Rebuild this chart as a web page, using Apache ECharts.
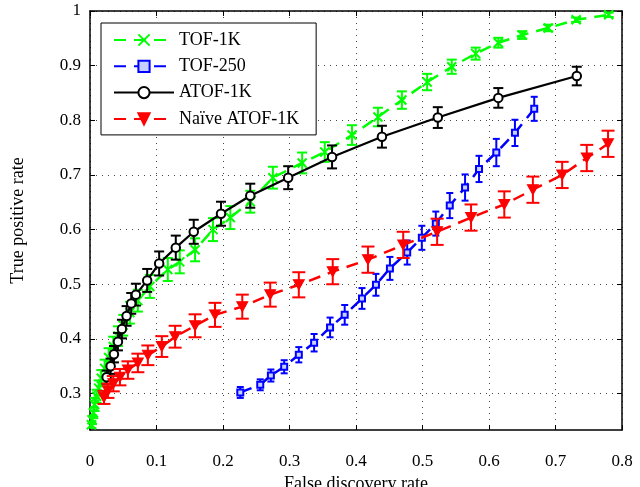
<!DOCTYPE html>
<html><head><meta charset="utf-8">
<script src="https://cdn.jsdelivr.net/npm/echarts@6/dist/echarts.min.js"></script>
<style>html,body{margin:0;padding:0;background:#fff}#c{width:640px;height:487px}</style>
</head><body><div id="c"></div>
<script>
// ---- data (x = false discovery rate, y = true positive rate, e = error half-length) ----
const seriesNames = ['TOF-1K', 'TOF-250', 'ATOF-1K', 'Naïve ATOF-1K'];
const xTicks = [0, 0.1, 0.2, 0.3, 0.4, 0.5, 0.6, 0.7, 0.8];
const yTicks = [0.3, 0.4, 0.5, 0.6, 0.7, 0.8, 0.9, 1];

const tof1kX = [0.002,0.003,0.005,0.007,0.010,0.013,0.017,0.022,0.028,0.035,0.042,0.050,0.060,0.072,0.090,0.117,0.135,0.158,0.185,0.211,0.241,0.275,0.319,0.353,0.394,0.433,0.469,0.507,0.544,0.580,0.614,0.650,0.689,0.731,0.780];
const tof1kY = [0.243,0.252,0.265,0.280,0.295,0.310,0.328,0.346,0.366,0.386,0.405,0.425,0.448,0.470,0.496,0.527,0.541,0.563,0.600,0.622,0.651,0.695,0.722,0.742,0.773,0.806,0.837,0.870,0.898,0.922,0.942,0.956,0.969,0.984,0.993];
const tof1kE = [0.006,0.008,0.010,0.012,0.012,0.014,0.015,0.016,0.017,0.018,0.018,0.019,0.020,0.020,0.021,0.021,0.021,0.021,0.021,0.021,0.020,0.020,0.019,0.018,0.018,0.017,0.016,0.015,0.013,0.011,0.009,0.007,0.006,0.004,0.004];

const tof250X = [0.226,0.256,0.272,0.292,0.314,0.337,0.361,0.383,0.409,0.430,0.451,0.477,0.499,0.520,0.541,0.564,0.585,0.611,0.639,0.668];
const tof250Y = [0.302,0.316,0.333,0.349,0.371,0.393,0.421,0.444,0.474,0.499,0.529,0.558,0.585,0.611,0.644,0.677,0.711,0.741,0.777,0.821];
const tof250E = [0.010,0.010,0.011,0.012,0.014,0.016,0.018,0.018,0.019,0.020,0.021,0.022,0.022,0.022,0.023,0.024,0.024,0.025,0.024,0.022];

const atof1kX = [0.025,0.031,0.036,0.042,0.048,0.055,0.062,0.069,0.086,0.104,0.129,0.156,0.197,0.241,0.298,0.364,0.439,0.523,0.614,0.732];
const atof1kY = [0.330,0.350,0.372,0.395,0.418,0.442,0.465,0.481,0.507,0.538,0.567,0.596,0.629,0.662,0.695,0.733,0.770,0.805,0.841,0.881];
const atof1kE = [0.012,0.014,0.015,0.016,0.017,0.018,0.019,0.020,0.021,0.022,0.022,0.022,0.022,0.022,0.021,0.021,0.020,0.019,0.018,0.017];

const naiveX = [0.021,0.027,0.035,0.045,0.057,0.072,0.087,0.108,0.128,0.158,0.188,0.229,0.271,0.314,0.365,0.418,0.471,0.522,0.573,0.623,0.666,0.710,0.747,0.779];
const naiveY = [0.293,0.305,0.318,0.330,0.343,0.356,0.370,0.386,0.404,0.424,0.444,0.459,0.481,0.499,0.523,0.545,0.572,0.596,0.622,0.646,0.673,0.700,0.731,0.757];
const naiveE = [0.012,0.013,0.014,0.015,0.016,0.017,0.018,0.019,0.020,0.021,0.022,0.022,0.022,0.023,0.023,0.024,0.024,0.024,0.024,0.024,0.024,0.024,0.024,0.024];

// ---- build ----
const FONT = 'Liberation Serif';
function pts(xs, ys) { return xs.map((x, i) => [x, ys[i]]); }
function errs(xs, ys, es) { return xs.map((x, i) => [x, ys[i], es[i]]); }
function errSeries(name, xs, ys, es, color, cap, z) {
  return {
    type: 'custom', name: name + ' err', z: z, clip: true, silent: true,
    data: errs(xs, ys, es),
    renderItem: function (params, api) {
      const x = api.value(0), y = api.value(1), e = api.value(2);
      const hi = api.coord([x, y + e]);
      const lo = api.coord([x, y - e]);
      const st = { stroke: color, lineWidth: 2 };
      return { type: 'group', children: [
        { type: 'line', shape: { x1: hi[0], y1: hi[1], x2: lo[0], y2: lo[1] }, style: st },
        { type: 'line', shape: { x1: hi[0] - cap, y1: hi[1], x2: hi[0] + cap, y2: hi[1] }, style: st },
        { type: 'line', shape: { x1: lo[0] - cap, y1: lo[1], x2: lo[0] + cap, y2: lo[1] }, style: st }
      ]};
    }
  };
}
const GREEN = '#00ff00', BLUE = '#0000ff', BLACK = '#000000', RED = '#ff0000';
const fmt = v => String(+(+v).toFixed(1));

const gridLine = { show: true, lineStyle: { color: '#444', width: 1, type: [1, 5] } };
const tickIn = { show: true, inside: true, length: 5, lineStyle: { color: '#000' } };

const option = {
  animation: false,
  backgroundColor: '#fff',
  grid: { left: 90, right: 18, top: 11, bottom: 57, containLabel: false, outerBoundsMode: 'none' },
  legend: {
    data: seriesNames, orient: 'vertical', left: 101, top: 23,
    padding: [8, 17, 7, 12], itemGap: 8.3, itemWidth: 60, itemHeight: 14,
    backgroundColor: '#fff', borderColor: '#000', borderWidth: 1, borderRadius: 0,
    textStyle: { fontFamily: FONT, fontSize: 18, lineHeight: 18, color: '#000', padding: [0, 0, 0, 0] }
  },
  xAxis: [
    { type: 'value', min: 0, max: 0.8, interval: 0.1, position: 'bottom',
      axisLine: { show: true, lineStyle: { color: '#000', width: 1.5 } },
      axisTick: tickIn, splitLine: gridLine,
      axisLabel: { formatter: fmt, margin: 23, fontFamily: FONT, fontSize: 17, color: '#000' },
      name: 'False discovery rate', nameLocation: 'middle', nameGap: 44,
      nameTextStyle: { fontFamily: FONT, fontSize: 18, color: '#000' } },
    { type: 'value', min: 0, max: 0.8, interval: 0.1, position: 'top',
      axisLine: { show: true, onZero: false, lineStyle: { color: '#000', width: 1.5 } },
      axisTick: tickIn, splitLine: { show: false }, axisLabel: { show: false } }
  ],
  yAxis: [
    { type: 'value', min: 0.2333, max: 1, position: 'left',
      axisLine: { show: true, lineStyle: { color: '#000', width: 1.5 } },
      axisTick: Object.assign({}, tickIn, { customValues: yTicks }),
      splitLine: gridLine,
      axisLabel: { customValues: yTicks, formatter: fmt, margin: 9, fontFamily: FONT, fontSize: 17, color: '#000' },
      name: 'True positive rate', nameLocation: 'middle', nameGap: 63, nameRotate: 90,
      nameTextStyle: { fontFamily: FONT, fontSize: 18, color: '#000' } },
    { type: 'value', min: 0.2333, max: 1, position: 'right',
      axisLine: { show: true, onZero: false, lineStyle: { color: '#000', width: 1.5 } },
      axisTick: Object.assign({}, tickIn, { customValues: yTicks }),
      splitLine: { show: false }, axisLabel: { show: false } }
  ],
  series: [
    errSeries('TOF-1K', tof1kX, tof1kY, tof1kE, GREEN, 5, 2),
    { name: 'TOF-1K', type: 'line', z: 3, data: pts(tof1kX, tof1kY), clip: true,
      symbol: 'path://M0,0L10,10M10,0L0,10', symbolSize: 9, showAllSymbol: true,
      itemStyle: { color: 'rgba(0,0,0,0)', borderColor: GREEN, borderWidth: 2 },
      lineStyle: { color: GREEN, width: 2.5, type: [12, 8] } },
    errSeries('TOF-250', tof250X, tof250Y, tof250E, BLUE, 3.5, 4),
    { name: 'TOF-250', type: 'line', z: 5, data: pts(tof250X, tof250Y), clip: true,
      symbol: 'rect', symbolSize: 6, showAllSymbol: true,
      itemStyle: { color: '#c8d0ff', borderColor: BLUE, borderWidth: 2 },
      lineStyle: { color: BLUE, width: 2.5, type: [12, 8] } },
    errSeries('ATOF-1K', atof1kX, atof1kY, atof1kE, BLACK, 5, 6),
    { name: 'ATOF-1K', type: 'line', z: 7, data: pts(atof1kX, atof1kY), clip: true,
      symbol: 'emptyCircle', symbolSize: 8.5, showAllSymbol: true,
      itemStyle: { color: BLACK, borderColor: BLACK, borderWidth: 2 },
      lineStyle: { color: BLACK, width: 2.2, type: 'solid' } },
    errSeries('Naïve ATOF-1K', naiveX, naiveY, naiveE, RED, 6.5, 8),
    { name: 'Naïve ATOF-1K', type: 'line', z: 9, data: pts(naiveX, naiveY), clip: true,
      symbol: 'path://M0,0L10,0L5,9Z', symbolSize: [11, 10], showAllSymbol: true,
      itemStyle: { color: RED, borderColor: RED, borderWidth: 1 },
      lineStyle: { color: RED, width: 2.5, type: [12, 8] } }
  ]
};
const chart = echarts.init(document.getElementById('c'), null, { renderer: 'canvas' });
chart.setOption(option);
</script></body></html>
